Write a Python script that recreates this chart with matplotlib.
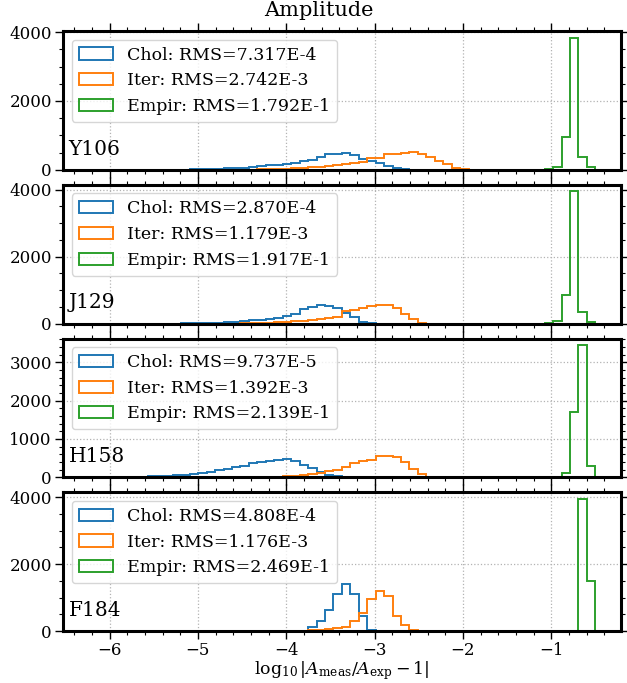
import numpy as np
import matplotlib
matplotlib.use("Agg")
import matplotlib.pyplot as plt

plt.rcParams['font.family'] = ['DejaVu Serif']
plt.rcParams['mathtext.fontset'] = 'dejavuserif'

# Common binning of log10 |A_meas/A_exp - 1|
lo, hi, nbins = -6.24, -0.50, 60
edges = np.linspace(lo, hi, nbins + 1)

bands = ["Y106", "J129", "H158", "F184"]
methods = ["Chol", "Iter", "Empir"]
colors = ["tab:blue", "tab:orange", "tab:green"]

rms_chol = [7.317e-4, 2.870e-4, 9.737e-5, 4.808e-4]
rms_iter = [2.742e-3, 1.179e-3, 1.392e-3, 1.176e-3]
rms_empir = [1.792e-1, 1.917e-1, 2.139e-1, 2.469e-1]

# Histogram counts: index of first non-empty bin, then counts per bin
chol_y106_start = 6
chol_y106 = [1, 1, 2, 2, 3, 5, 8, 12, 20, 25, 40, 50, 60, 80, 100, 125, 150, 175,
             210, 250, 290, 370, 460, 460, 480, 440, 320, 250, 190, 110, 50, 15, 5, 2]
iter_y106_start = 19
iter_y106 = [5, 10, 15, 20, 30, 40, 55, 75, 95, 115, 135, 165, 190, 220, 340, 350,
             450, 460, 490, 520, 460, 380, 250, 170, 60, 15, 3]
empir_y106_start = 54
empir_y106 = [20, 88, 965, 3840, 380, 78]

chol_j129_start = 11
chol_j129 = [5, 10, 15, 20, 30, 40, 55, 70, 95, 120, 150, 180, 220, 280, 420, 480,
             540, 520, 470, 320, 190, 60, 10]
iter_j129_start = 18
iter_j129 = [5, 10, 20, 30, 45, 60, 75, 90, 110, 130, 160, 200, 370, 400, 450, 520,
             550, 540, 470, 280, 140, 30]
empir_j129_start = 54
empir_j129 = [15, 90, 850, 3950, 330, 60]

chol_h158_start = 0
chol_h158 = [3, 5, 8, 10, 12, 15, 20, 25, 30, 40, 50, 60, 85, 115, 150, 185, 220,
             260, 300, 380, 400, 430, 460, 470, 420, 330, 250, 130, 60, 25, 5]
iter_h158_start = 17
iter_h158 = [5, 8, 10, 12, 15, 18, 25, 35, 60, 90, 100, 170, 200, 270, 360, 420,
             450, 550, 560, 520, 390, 220, 80, 10]
empir_h158_start = 55
empir_h158 = [20, 120, 1700, 3450, 300]

chol_f184_start = 24
chol_f184 = [5, 10, 130, 300, 620, 1120, 1420, 1120, 455, 20]
iter_f184_start = 22
iter_f184 = [3, 5, 10, 15, 20, 30, 50, 80, 130, 300, 545, 950, 1210, 1040, 445, 180, 20]
empir_f184_start = 57
empir_f184 = [5, 3950, 1500]

series = {
    "Y106": [(chol_y106_start, chol_y106), (iter_y106_start, iter_y106), (empir_y106_start, empir_y106)],
    "J129": [(chol_j129_start, chol_j129), (iter_j129_start, iter_j129), (empir_j129_start, empir_j129)],
    "H158": [(chol_h158_start, chol_h158), (iter_h158_start, iter_h158), (empir_h158_start, empir_h158)],
    "F184": [(chol_f184_start, chol_f184), (iter_f184_start, iter_f184), (empir_f184_start, empir_f184)],
}
rms_table = [rms_chol, rms_iter, rms_empir]


def full_counts(start, counts):
    w = np.zeros(nbins)
    w[start:start + len(counts)] = counts
    return w


def sci(v):
    mant, exp = f"{v:.3E}".split("E")
    return f"{mant}E{int(exp)}"


centers = 0.5 * (edges[:-1] + edges[1:])

fig, axes = plt.subplots(4, 1, sharex=True, figsize=(6.27, 6.83), dpi=100)
fig.subplots_adjust(left=0.1005, right=0.990, top=0.9546, bottom=0.0761, hspace=0.108)

for i, (ax, band) in enumerate(zip(axes, bands)):
    for j, (method, color) in enumerate(zip(methods, colors)):
        start, counts = series[band][j]
        ax.hist(centers, bins=edges, weights=full_counts(start, counts),
                histtype="step", color=color, lw=1.4,
                label=f"{method}: RMS={sci(rms_table[j][i])}")
    ax.grid(True, which="major", ls=":", color="0.7", lw=0.9)
    ax.set_axisbelow(True)
    ax.minorticks_on()
    ax.tick_params(which="both", direction="out", top=True, right=True, labelsize=12)
    ax.tick_params(which="major", length=5.5, width=1.0, pad=2.5)
    ax.tick_params(which="minor", length=3, width=0.8)
    for sp in ax.spines.values():
        sp.set_linewidth(2.2)
    ax.legend(loc="upper left", fontsize=12.5, framealpha=0.8)
    ax.text(0.01, 0.08, band, transform=ax.transAxes, fontsize=14.5, va="bottom")

axes[0].yaxis.set_major_locator(matplotlib.ticker.MultipleLocator(2000))
axes[1].yaxis.set_major_locator(matplotlib.ticker.MultipleLocator(2000))
axes[3].yaxis.set_major_locator(matplotlib.ticker.MultipleLocator(2000))
axes[2].yaxis.set_major_locator(matplotlib.ticker.MultipleLocator(1000))
for ax in axes:
    ax.yaxis.set_minor_locator(matplotlib.ticker.AutoMinorLocator())
    ax.xaxis.set_minor_locator(matplotlib.ticker.MultipleLocator(0.2))

axes[-1].set_xlabel(r"$\log_{10}|A_{\rm meas}/A_{\rm exp}-1|$", fontsize=12.5, labelpad=0)
fig.suptitle("Amplitude", fontsize=15, x=0.508, y=0.999)

fig.savefig("out.png", dpi=100)
